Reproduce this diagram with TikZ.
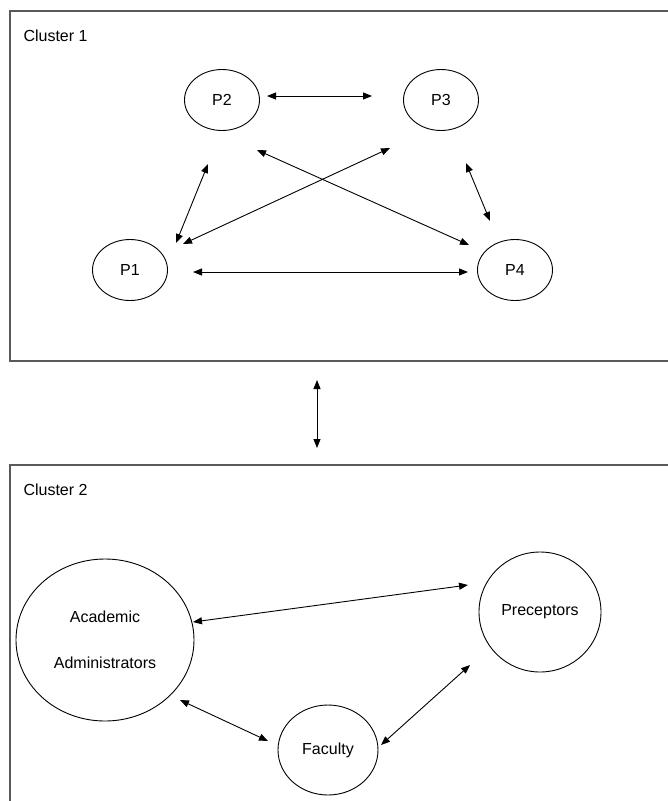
\documentclass[tikz,border=0pt]{standalone}
\usepackage{fontspec}
\setmainfont{Liberation Sans}
\usepackage{tikz}
\usetikzlibrary{positioning,shapes.geometric,arrows.meta}

\tikzset{
	pnode/.style={ellipse, draw, line width=0.9pt, minimum width=75pt, minimum height=61pt, inner sep=0pt},
	link/.style={{Triangle[length=9pt,width=7pt]}-{Triangle[length=9pt,width=7pt]}, line width=0.9pt},
	frame/.style={draw=black!65, line width=1.2pt},
}

\begin{document}
\begin{tikzpicture}[x=1pt, y=-1pt, font=\fontsize{16}{19}\selectfont]
		\useasboundingbox (0,0) rectangle (668,801);

		% cluster frames
		\draw[frame] (668,11) -- (10,11) -- (10,361) -- (668,361);
		\draw[frame] (668,465) -- (10,465) -- (10,801);
		\node[anchor=west] (c1) at (20,36) {Cluster 1};
		\node[anchor=west] (c2) at (20,490) {Cluster 2};

		% cluster 1
		\node[pnode] (P2) at (222,100) {P2};
		\node[pnode] (P3) at (441,100) {P3};
		\node[pnode] (P1) at (130,270) {P1};
		\node[pnode] (P4) at (515,270) {P4};

		\draw[link] ([shift={(45,-4)}]P2.center) -- ([shift={(-69,-4)}]P3.center);
		\draw[link] ([shift={(63,2)}]P1.center) -- ([shift={(-47,2)}]P4.center);
		\draw[link] ([shift={(46,-27)}]P1.center) -- ([shift={(-14,64)}]P2.center);
		\draw[link] ([shift={(53,-26)}]P1.center) -- ([shift={(-51,48)}]P3.center);
		\draw[link] ([shift={(35,50)}]P2.center) -- ([shift={(-46,-25)}]P4.center);
		\draw[link] ([shift={(25,63)}]P3.center) -- ([shift={(-25,-49)}]P4.center);

		% between clusters
		\coordinate (up) at (317,380);
		\coordinate (down) at (317,448);
		\draw[link] (up) -- (down);

		% cluster 2
		\node[pnode, minimum width=178pt, minimum height=162pt, align=center] (admin) at (105,640) {Academic\\[27pt]Administrators};
		\node[pnode, minimum width=122pt, minimum height=120pt] (prec) at (540,612) {Preceptors};
		\node[pnode, minimum width=100pt, minimum height=90pt] (fac) at (328,750) {Faculty};

		\draw[link] ([shift={(88,-18)}]admin.center) -- ([shift={(-72,-27)}]prec.center);
		\draw[link] ([shift={(75,60)}]admin.center) -- ([shift={(-60,-9)}]fac.center);
		\draw[link] ([shift={(53,-5)}]fac.center) -- ([shift={(-70,53)}]prec.center);
	\end{tikzpicture}
\end{document}
